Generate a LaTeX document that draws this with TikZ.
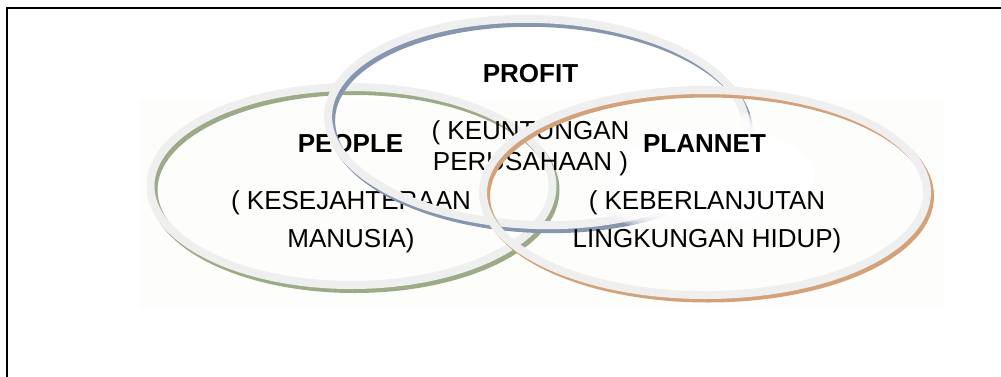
\documentclass[tikz,border=0pt]{standalone}
\usepackage{fontspec}
\setmainfont{Liberation Sans}
\definecolor{ringgray}{HTML}{EFEFEF}
\definecolor{peoplec}{HTML}{9DAA87}
\definecolor{profitc}{HTML}{8696AE}
\definecolor{planetc}{HTML}{D3A27B}
\definecolor{faintbg}{HTML}{FDFDFB}
\tikzset{
  band/.style={draw=ringgray, line width=8pt},
  edge/.style={line width=8pt},
  glow/.style={fill=white, fill opacity=0.3},
  head/.style={font=\fontsize{26}{31}\bfseries\selectfont, inner sep=0pt},
  sub/.style={font=\fontsize{26}{38}\selectfont, align=center, inner sep=0pt},
}
\begin{document}
\begin{tikzpicture}[x=1pt,y=-1pt]
\useasboundingbox (0,0) rectangle (1001,376);
\fill[white] (0,0) rectangle (1001,376);
\fill[faintbg] (140,100) rectangle (943,308);
\draw[line width=2pt] (7,380) -- (7,8) -- (1005,8);
% PEOPLE ring and texts
\draw[edge, draw=peoplec] (354.5,190) ellipse [x radius=201pt, y radius=99pt];
\draw[band] (351.5,186) ellipse [x radius=201pt, y radius=99pt];
\node[head] (people) at (350.5,144) {PEOPLE};
\node[sub] (peoplesub) at (351,221.5) {( KESEJAHTERAAN\\MANUSIA)};
% PROFIT ring
\draw[edge, draw=profitc, rotate around={-2:(540,126)}] (540,126) ellipse [x radius=209pt, y radius=103pt];
\draw[band, rotate around={-2:(537,122)}] (537,122) ellipse [x radius=209pt, y radius=103pt];
% PLANNET inner glow hiding what lies behind its centre
\foreach \f in {0.62,0.60,...,0.47}
  \fill[glow] (715,175) ellipse [x radius=222*\f pt, y radius=102.5*\f pt];
\fill[white] (715,175) ellipse [x radius=100pt, y radius=46pt];
% PROFIT texts
\node[head] (profit) at (530.5,74) {PROFIT};
\node[sub, font=\fontsize{26}{31}\selectfont] (profitsub) at (530.5,148) {( KEUNTUNGAN\\PERUSAHAAN )};
% PLANNET ring and texts
\draw[edge, draw=planetc] (708,196) ellipse [x radius=222pt, y radius=102.5pt];
\draw[band] (705,192.5) ellipse [x radius=222pt, y radius=102.5pt];
\node[head] (planet) at (704.5,144) {PLANNET};
\node[sub] (planetsub) at (707,221.5) {( KEBERLANJUTAN\\LINGKUNGAN HIDUP)};
\end{tikzpicture}
\end{document}
